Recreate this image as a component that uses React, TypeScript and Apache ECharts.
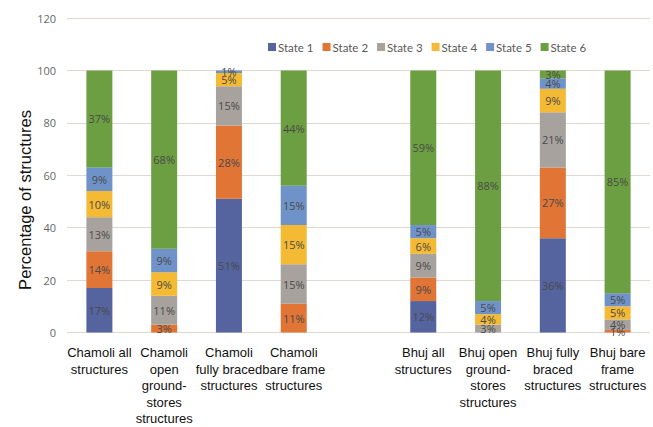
import React, { useEffect, useRef } from "react";
import * as echarts from "echarts";

const categories = [
  "Chamoli all\nstructures",
  "Chamoli\nopen\nground-\nstores\nstructures",
  "Chamoli\nfully braced\nstructures",
  "Chamoli\nbare frame\nstructures",
  "",
  "Bhuj all\nstructures",
  "Bhuj open\nground-\nstores\nstructures",
  "Bhuj fully\nbraced\nstructures",
  "Bhuj bare\nframe\nstructures",
];

const seriesNames = ["State 1", "State 2", "State 3", "State 4", "State 5", "State 6"];
const state1 = [17, 0, 51, 0, null, 12, 0, 36, 0];
const state2 = [14, 3, 28, 11, null, 9, 0, 27, 1];
const state3 = [13, 11, 15, 15, null, 9, 3, 21, 4];
const state4 = [10, 9, 5, 15, null, 6, 4, 9, 5];
const state5 = [9, 9, 1, 15, null, 5, 5, 4, 5];
const state6 = [37, 68, 0, 44, null, 59, 88, 3, 85];
const colors = ["#55639f", "#e07536", "#a7a29e", "#f5ba34", "#6f93c8", "#6c9f41"];
const yTicks = [0, 20, 40, 60, 80, 100, 120];
const yTitle = "Percentage of structures";

export default function App() {
  const ref = useRef<HTMLDivElement>(null);
  useEffect(() => {
    if (!ref.current) return;
    const chart = echarts.init(ref.current, null, { renderer: "svg" });
    const all = [state1, state2, state3, state4, state5, state6];
    chart.setOption({
      animation: false,
      legend: {
        top: 36,
        left: 263,
        itemWidth: 8,
        itemHeight: 8,
        itemGap: 9,
        icon: "rect",
        textStyle: { fontFamily: "Lato", fontSize: 11.5, color: "#595959", padding: [0, 0, 0, -3] },
        data: seriesNames,
      },
      graphic: [
        {
          type: "text",
          x: 25,
          y: 200,
          rotation: Math.PI / 2,
          style: {
            text: yTitle,
            fontFamily: "Liberation Sans",
            fontSize: 16.5,
            fill: "#111",
            align: "center",
            verticalAlign: "middle",
          },
        },
      ],
      grid: { left: 67, right: 3, top: 18, bottom: 91, containLabel: false },
      xAxis: {
        type: "category",
        data: categories,
        axisLine: { show: false },
        axisTick: { show: false },
        axisLabel: {
          interval: 0,
          color: "#111",
          fontFamily: "Liberation Sans",
          fontSize: 13,
          lineHeight: 16.5,
          margin: 12,
        },
      },
      yAxis: {
        type: "value",
        min: yTicks[0],
        max: yTicks[yTicks.length - 1],
        interval: 20,
        axisLine: { show: false },
        axisTick: { show: false },
        axisLabel: { color: "#666", fontFamily: "Open Sans", fontSize: 11, margin: 11 },
        splitLine: { lineStyle: { color: "#e2d8d2", width: 1 } },
      },
      series: all.map((d, i) => ({
        name: seriesNames[i],
        type: "bar",
        stack: "total",
        barWidth: 26,
        itemStyle: { color: colors[i] },
        data: d.map((v) => (v === null ? "-" : v)),
        label: {
          show: true,
          position: "inside",
          fontFamily: "Open Sans",
          fontSize: 11,
          color: "#4a4a4a",
          formatter: (p: any) => (p.value && p.value > 0 ? p.value + "%" : ""),
        },
      })),
    });
    return () => chart.dispose();
  }, []);
  return <div ref={ref} style={{ width: 653, height: 427, position: "absolute", left: 0, top: 0 }} />;
}
